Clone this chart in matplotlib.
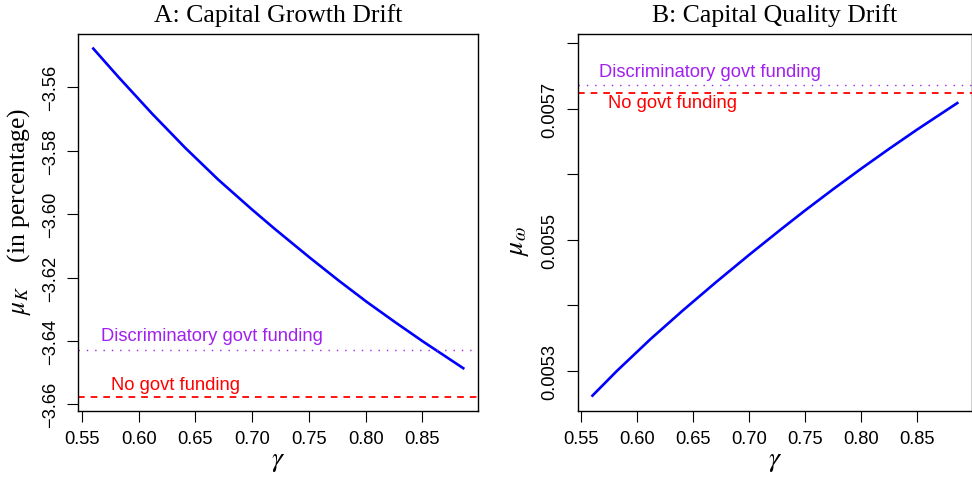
import numpy as np
import matplotlib.pyplot as plt

plt.rcParams['font.family'] = 'Liberation Sans'
plt.rcParams['mathtext.fontset'] = 'stix'

# panel A: capital growth drift (percent)
gamma_a = [0.560, 0.582, 0.612, 0.641, 0.670, 0.700, 0.720, 0.751, 0.776, 0.801, 0.826, 0.851, 0.886]
mu_k = [-3.5478, -3.5567, -3.5684, -3.5791, -3.5891, -3.5986, -3.6047, -3.6138,
	-3.6209, -3.6277, -3.6341, -3.6403, -3.6486]
mu_k_disc = -3.6429
mu_k_none = -3.6576

# panel B: capital quality drift
gamma_b = [0.560, 0.582, 0.612, 0.641, 0.670, 0.700, 0.729, 0.750, 0.775, 0.800, 0.825, 0.850, 0.886]
mu_w = [0.0052620, 0.0053000, 0.0053485, 0.0053924, 0.0054346, 0.0054769, 0.0055166,
	0.0055447, 0.0055770, 0.0056083, 0.0056386, 0.0056680, 0.0057086]
mu_w_disc = 0.0057358
mu_w_none = 0.0057236

xticks = [0.55, 0.60, 0.65, 0.70, 0.75, 0.80, 0.85]
yticks_a = [-3.56, -3.58, -3.60, -3.62, -3.64, -3.66]
yticks_b = [0.0053, 0.0054, 0.0055, 0.0056, 0.0057, 0.0058]
ylabels_b = ['0.0053', '', '0.0055', '', '0.0057', '']

BLUE = '#0000FF'
PURPLE = '#A020F0'
RED = '#FF0000'
FS = 13.2

fig = plt.figure(figsize=(9.72, 4.85), dpi=100)
axA = fig.add_axes([78.3/972, 1-411.7/485, (477.7-78.3)/972, (411.7-35)/485])
axB = fig.add_axes([577.7/972, 1-411.7/485, (971.5-577.7)/972, (411.7-35)/485])


def style(ax):
	ax.tick_params(direction='out', length=8, width=0.8, labelsize=FS, pad=6)
	ax.tick_params(axis='y', labelrotation=90)
	for lab in ax.get_yticklabels():
		lab.set_va('center')
	for s in ax.spines.values():
		s.set_linewidth(1.0)
	ax.set_xticks(xticks)
	ax.set_xticklabels(['%.2f' % t for t in xticks])
	ax.set_xlim(0.5468, 0.8987)
	ax.set_xlabel(r'$\gamma$', fontsize=20, labelpad=0)


# A
axA.plot(gamma_a, mu_k, color=BLUE, lw=1.9)
axA.axhline(mu_k_disc, color=PURPLE, lw=1, ls=(0, (1, 5)))
axA.axhline(mu_k_none, color=RED, lw=1.3, ls=(0, (3.7, 3.3)))
axA.text(0.6646, -3.6382, 'Discriminatory govt funding', color=PURPLE, fontsize=FS, ha='center', va='center')
axA.text(0.632, -3.6538, 'No govt funding', color=RED, fontsize=FS, ha='center', va='center')
axA.set_ylim(-3.6620, -3.5432)
axA.set_yticks(yticks_a)
axA.set_yticklabels(['\u2212%.2f' % abs(t) for t in yticks_a])
axA.set_title('A: Capital Growth Drift', fontsize=18.5, family='Liberation Serif', pad=9.5)
axA.set_ylabel(r'$\mu_K$    (in percentage)', fontsize=18.4, family='Liberation Serif')
style(axA)
axA.yaxis.set_label_coords(-0.1127, 0.531)

# B
axB.plot(gamma_b, mu_w, color=BLUE, lw=1.9)
axB.axhline(mu_w_disc, color=PURPLE, lw=1, ls=(0, (1, 5)))
axB.axhline(mu_w_none, color=RED, lw=1.3, ls=(0, (3.7, 3.3)))
axB.text(0.6647, 0.0057572, 'Discriminatory govt funding', color=PURPLE, fontsize=FS, ha='center', va='center')
axB.text(0.6314, 0.0057087, 'No govt funding', color=RED, fontsize=FS, ha='center', va='center')
axB.set_ylim(0.005239, 0.005814)
axB.set_yticks(yticks_b)
axB.set_yticklabels(ylabels_b)
axB.set_title('B: Capital Quality Drift', fontsize=18.5, family='Liberation Serif', pad=9.5)
axB.set_ylabel(r'$\mu_\omega$', fontsize=20)
style(axB)
axB.yaxis.set_label_coords(-0.1186, 0.453)

fig.savefig('out.png', dpi=100)
